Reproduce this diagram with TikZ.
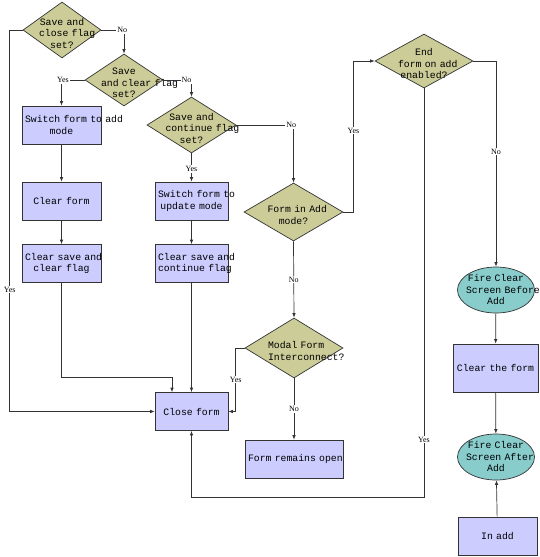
\documentclass[tikz,border=0pt]{standalone}
\usepackage{fontspec}
\newfontfamily\flowfont{Liberation Mono}
\newfontfamily\tagfont{Liberation Serif}
\usetikzlibrary{positioning,arrows.meta,shapes.geometric,calc}
\definecolor{khaki}{RGB}{204,204,153}
\definecolor{lavender}{RGB}{204,204,255}
\definecolor{tealish}{RGB}{136,204,204}
\hyphenpenalty=10000
\exhyphenpenalty=10000

\begin{document}
\begin{tikzpicture}[x=1pt,y=-1pt,
    decision/.style={diamond, draw=black!80, line width=0.7pt, fill=khaki, inner sep=0pt},
    dtext/.style={font={\flowfont\fontsize{9.8}{11.5}\selectfont}, text width=52pt, align=center, inner sep=0pt, yshift=-3pt},
    procbox/.style={rectangle, draw=black!80, line width=0.7pt, fill=lavender, minimum height=38pt, inner xsep=3pt, align=center, font={\flowfont\fontsize{9.8}{11.5}\selectfont}},
    event/.style={ellipse, draw=black!80, line width=0.7pt, fill=tealish, inner sep=0pt, minimum width=77pt, minimum height=46pt},
    tag/.style={fill=white, inner sep=1pt, font={\tagfont\fontsize{8}{9}\selectfont}},
    arr/.style={draw=black!80, line width=0.7pt, -{Latex[length=4.5pt,width=3.5pt]}}]
    \useasboundingbox (0,0) rectangle (540,557);

    %% Decisions
    \node[decision, minimum width=78pt, minimum height=56pt, label={[dtext, text width=46pt]center:{Save~and\\close~flag\\set?}}] (SC) at (62,30) {};
    \node[decision, minimum width=78pt, minimum height=52pt, label={[dtext, text width=46pt]center:{Save\\and~clear~flag\\set?}}] (SCL) at (124,80) {};
    \node[decision, minimum width=89pt, minimum height=56pt, label={[dtext]center:{Save~and\\continue~flag\\set?}}] (SCO) at (191.5,125) {};
    \node[decision, minimum width=99pt, minimum height=58pt, label={[dtext]center:{Form~in~Add\\mode?}}] (FA) at (293.5,212) {};
    \node[decision, minimum width=98pt, minimum height=54pt, label={[dtext]center:{End\\form~on~add\\enabled?}}] (EF) at (424,61) {};
    \node[decision, minimum width=98pt, minimum height=60pt, label={[dtext]center:{Modal~Form\\Interconnect?}}] (MF) at (294,348) {};

    %% Processes
    \node[procbox, text width=73pt] (SA) at (61.5,125) {Switch~form~to~add\\mode};
    \node[procbox, text width=73pt] (CLF) at (61.5,201) {Clear~form};
    \node[procbox, text width=73pt] (CSC) at (61.5,263.5) {Clear~save~and\\clear~flag};
    \node[procbox, text width=67pt] (SU) at (191.5,201) {Switch~form~to\\update~mode};
    \node[procbox, text width=67pt] (CSO) at (191.5,263.5) {Clear~save~and\\continue~flag};
    \node[procbox, text width=67pt] (CF) at (191.5,411.5) {Close~form};
    \node[procbox, text width=92pt] (FO) at (294,459) {Form~remains~open};
    \node[procbox, text width=79pt, minimum height=48pt] (CT) at (495.5,368) {Clear~the~form};
    \node[procbox, text width=73pt] (IA) at (497.5,536) {In~add};

    %% Events
    \node[event, label={[dtext, text width=60pt, yshift=3pt]center:{Fire~Clear\\Screen~Before\\Add}}] (FB) at (496,290) {};
    \node[event, label={[dtext, text width=60pt, yshift=3pt]center:{Fire~Clear\\Screen~After\\Add}}] (FF) at (496,457) {};

    \coordinate (back) at (191.5,497);

    %% Connectors
    \draw[arr] (SC.west) -- ++(-13,0) |- node[tag, pos=0.34] {Yes} (CF.west);
    \draw[arr] (SC.east) -| node[tag, pos=0.46] {No} (SCL.north);
    \draw[arr] (SCL.west) -| node[tag, pos=0.47] {Yes} (SA.north);
    \draw[arr] (SCL.east) -| node[tag, pos=0.41] {No} (SCO.north);
    \draw[arr] (SCO.south) -- node[tag, pos=0.55] {Yes} (SU.north);
    \draw[arr] (SCO.east) -| node[tag, pos=0.48] {No} (FA.north);
    \draw[arr] (FA.east) -- ++(10,0) |- node[tag, pos=0.27] {Yes} (EF.west);
    \draw[arr] (FA.south) -- node[tag] {No} (MF.north);
    \draw[arr] (MF.west) -- ++(-9,0) |- node[tag, pos=0.25] {Yes} (CF.east);
    \draw[arr] (MF.south) -- node[tag] {No} (FO.north);
    \draw[arr] (EF.east) -| node[tag, pos=0.72] {No} (FB.north);
    \draw[arr] (EF.south) |- node[tag, pos=0.43] {Yes} (back) -- (CF.south);

    \draw[arr] (SA) -- (CLF);
    \draw[arr] (CLF) -- (CSC);
    \draw[arr] (CSC.south) -- ++(0,94) -| ([xshift=-19.5pt]CF.north);
    \draw[arr] (SU) -- (CSO);
    \draw[arr] (CSO) -- (CF);
    \draw[arr] (FB) -- (CT);
    \draw[arr] (CT) -- (FF);
    \draw[arr] (IA) -- (FF);
\end{tikzpicture}
\end{document}
